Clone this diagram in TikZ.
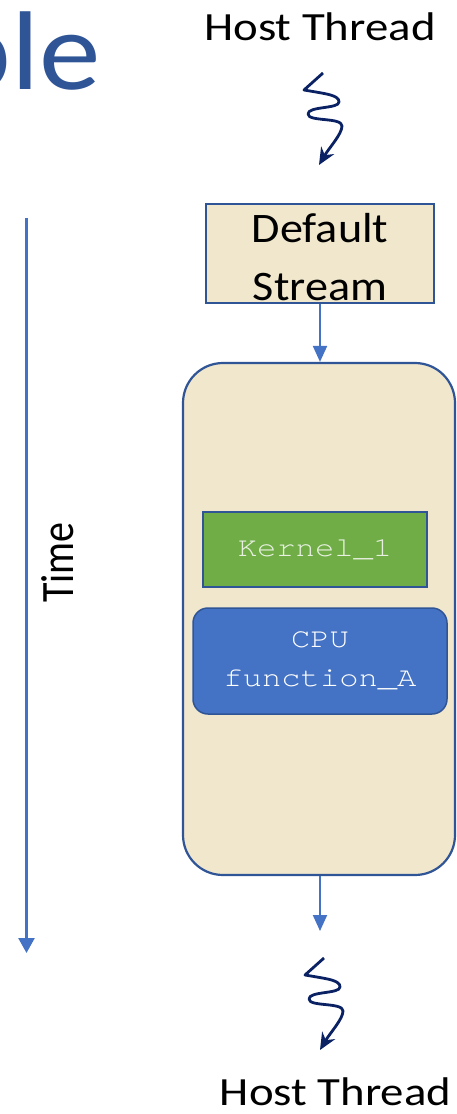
\documentclass[tikz,border=0pt]{standalone}
\usepackage{fontspec}
\setmainfont{Carlito}
\newfontfamily\codefont{TeX Gyre Cursor}
\usetikzlibrary{arrows.meta}
\definecolor{titleblue}{HTML}{2F5597}
\definecolor{edgeblue}{HTML}{2F5597}
\definecolor{flowblue}{HTML}{4472C4}
\definecolor{navy}{HTML}{0A2264}
\definecolor{cream}{HTML}{F1E7CC}
\definecolor{kgreen}{HTML}{70AD47}
\definecolor{ktext}{HTML}{E8F1E1}
\newcommand{\fsz}[2]{\fontsize{#1}{#2}\selectfont}
\tikzset{
  flow/.style={draw=flowblue, line width=2pt, -{Triangle[length=16pt,width=14pt]}},
  squig/.style={draw=navy, line width=2.8pt, line join=round, -{Stealth[length=17pt,width=15pt]}},
  streambox/.style={draw=edgeblue, line width=1.6pt, fill=cream, minimum width=228pt, minimum height=99pt, inner sep=0pt},
  streamtext/.style={inner sep=0pt, align=center, font=\fsz{42}{58}},
  gpubox/.style={draw=edgeblue, line width=2.2pt, fill=cream, rounded corners=40pt, minimum width=272pt, minimum height=512pt, inner sep=0pt},
  kernelbox/.style={draw=edgeblue, line width=1.5pt, fill=kgreen, minimum width=224pt, minimum height=75pt, inner sep=0pt, text=ktext, font=\codefont\fsz{27.5}{39}},
  cpubox/.style={draw=edgeblue, line width=1.5pt, fill=flowblue, rounded corners=15pt, minimum width=254pt, minimum height=106pt, inner sep=0pt, align=center, text=white, font=\codefont\fsz{27.5}{39}},
  label/.style={inner sep=0pt, font=\fsz{40}{48}},
  squiggle/.pic={
    \draw[squig] (0,0) -- (-19,17)
      .. controls (4,21) and (16,22) .. (16,29)
      .. controls (16,36) and (-15,33) .. (-15,41)
      .. controls (-15,49) and (19,44) .. (19,53)
      .. controls (19,61) and (6,75) .. (-4,92);
  }
}
\begin{document}
\begin{tikzpicture}[x=1pt,y=-1pt]
\useasboundingbox (0,0) rectangle (456,1114);
\clip (0,0) rectangle (456,1114);

% heading fragment
\node[anchor=base east, inner sep=0pt, text=titleblue, font=\fsz{112}{112}] (title) at (101,89) {\scalebox{1.1}[1]{ple}};

% time axis
\coordinate (t0) at (26.5,218);
\coordinate (t1) at (26.5,953);
\draw[draw=flowblue, line width=2.5pt, -{Triangle[length=15pt,width=16pt]}] (t0) -- (t1);
\node[rotate=90, anchor=base, inner sep=0pt, font=\fsz{40}{48}] (time) at (73,562.5) {\scalebox{1}[1.16]{Time}};

% host thread in
\node[label, anchor=base] (host1) at (320,40) {\scalebox{1.17}[1]{Host Thread}};
\coordinate (sq1) at (323,73);
\pic at (sq1) {squiggle};

% default stream
\node[streambox] (ds) at (320,253.5) {};
\node[streamtext] (dstext) at (320,257.5) {\scalebox{1.1}[1]{Default}\\\scalebox{1.1}[1]{Stream}};

% stream contents
\node[gpubox] (gpu) at (319,619) {};
\node[kernelbox] (k1) at (315,549.5) {\scalebox{1.17}[1]{Kernel\_1}};
\node[cpubox] (cpu) at (320,661) {\scalebox{1.17}[1]{CPU}\\\scalebox{1.17}[1]{function\_A}};

\draw[flow] (ds.south) -- (ds.south |- gpu.north);
\coordinate (out) at (320,931);
\draw[flow] (gpu.south -| ds.south) -- (out);

% host thread out
\coordinate (sq2) at (324,958);
\pic at (sq2) {squiggle};
\node[label, anchor=base] (host2) at (335.5,1105) {\scalebox{1.17}[1]{Host Thread}};
\end{tikzpicture}
\end{document}
